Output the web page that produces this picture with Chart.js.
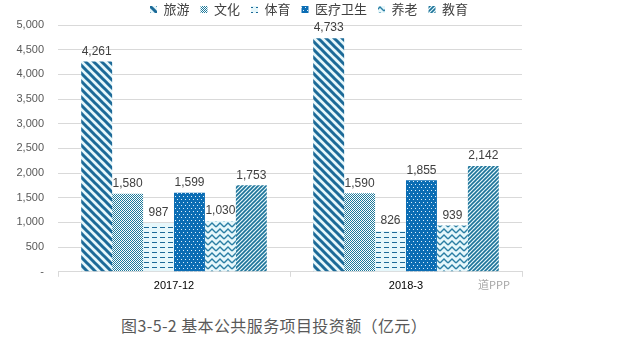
<!DOCTYPE html>
<html>
<head>
<meta charset="utf-8">
<script src="https://cdn.jsdelivr.net/npm/chart.js@4"></script>
<style>
  body { margin: 0; background: #fff; }
  #wrap { position: relative; width: 618px; height: 348px; }
  #box { position: absolute; left: 0; top: 0; width: 618px; height: 296px; }
  #caption { position: absolute; left: 121px; top: 313px; font: 16px "Noto Sans CJK SC", sans-serif; letter-spacing: 0.4px; color: #595959; }
  #mark { position: absolute; left: 478px; top: 276px; font: 11px "Noto Sans CJK SC", sans-serif; color: #a6a6a6; }
</style>
</head>
<body>
<div id="wrap">
  <div id="box"><canvas id="chart"></canvas></div>
  <div id="mark">道PPP</div>
  <div id="caption">图3-5-2 基本公共服务项目投资额（亿元）</div>
</div>
<script>
// data
const periods = ["2017-12", "2018-3"];
const seriesNames = ["旅游", "文化", "体育", "医疗卫生", "养老", "教育"];
const tourism = [4261, 4733];
const culture = [1580, 1590];
const sports = [987, 826];
const health = [1599, 1855];
const elderly = [1030, 939];
const education = [1753, 2142];
const yTicks = [0, 500, 1000, 1500, 2000, 2500, 3000, 3500, 4000, 4500, 5000];

const dark = "#1c6a98";
const light = "#e6f7fb";

// small canvas tiles -> patterns
const tile = (w, h, bg, draw) => {
  const c = document.createElement("canvas");
  c.width = w;
  c.height = h;
  const g = c.getContext("2d");
  g.fillStyle = bg;
  g.fillRect(0, 0, w, h);
  draw(g);
  return g.createPattern(c, "repeat");
};

const patterns = [
  // 旅游: wide "\" stripes
  tile(8, 8, light, (g) => {
    g.strokeStyle = dark;
    g.lineWidth = 3;
    g.beginPath();
    g.moveTo(-2, -2); g.lineTo(10, 10);
    g.moveTo(-10, -2); g.lineTo(2, 10);
    g.moveTo(6, -2); g.lineTo(18, 10);
    g.stroke();
  }),
  // 文化: checkerboard
  tile(2, 2, "#ffffff", (g) => {
    g.fillStyle = "#1d7a9c";
    g.fillRect(0, 0, 1, 1);
    g.fillRect(1, 1, 1, 1);
  }),
  // 体育: dashes
  tile(8, 5, light, (g) => {
    g.fillStyle = dark;
    g.fillRect(0, 2, 5, 1);
  }),
  // 医疗卫生: blue with white dots
  tile(4, 6, "#0b6db4", (g) => {
    g.fillStyle = "#dff0fa";
    g.fillRect(1, 1, 1, 1);
    g.fillRect(3, 4, 1, 1);
  }),
  // 养老: zigzag weave
  tile(8, 6, light, (g) => {
    g.strokeStyle = "#2a7ea3";
    g.lineWidth = 1.4;
    g.beginPath();
    g.moveTo(0, 5); g.lineTo(4, 1); g.lineTo(8, 5);
    g.stroke();
  }),
  // 教育: thin "/" stripes
  tile(4, 4, light, (g) => {
    g.strokeStyle = "#1d7399";
    g.lineWidth = 1.6;
    g.beginPath();
    g.moveTo(-1, 5); g.lineTo(5, -1);
    g.moveTo(-1, 1); g.lineTo(1, -1);
    g.moveTo(3, 5); g.lineTo(5, 3);
    g.stroke();
  }),
];

const values = [tourism, culture, sports, health, elderly, education];

const fmt = (v) => v.toLocaleString("en-US");

// value labels over the bars
const barLabels = {
  id: "barLabels",
  afterDatasetsDraw(chart) {
    const ctx = chart.ctx;
    ctx.save();
    ctx.font = "12px 'Liberation Sans', sans-serif";
    ctx.fillStyle = "#404040";
    ctx.textAlign = "center";
    ctx.textBaseline = "bottom";
    chart.data.datasets.forEach((ds, i) => {
      chart.getDatasetMeta(i).data.forEach((bar, j) => {
        ctx.fillText(fmt(ds.data[j]), bar.x, bar.y - 4);
      });
    });
    ctx.restore();
  },
};

// keep the legend block short so the plot starts high
const shortLegend = {
  id: "shortLegend",
  afterInit(chart) {
    const lg = chart.legend;
    const fit = lg.fit;
    lg.fit = function () {
      fit.call(this);
      this.height = 33;
    };
  },
};

Chart.defaults.font.family = "'Liberation Sans', 'Noto Sans CJK SC', sans-serif";
Chart.defaults.color = "#595959";
Chart.defaults.animation = false;

new Chart(document.querySelector("#chart").getContext("2d"), {
  type: "bar",
  data: {
    labels: periods,
    datasets: seriesNames.map((name, i) => ({
      label: name,
      data: values[i],
      backgroundColor: patterns[i],
      borderWidth: 0,
      barPercentage: 1,
      categoryPercentage: 0.8,
    })),
  },
  options: {
    responsive: true,
    maintainAspectRatio: false,
    layout: {
      padding: { left: 0, right: 0, top: -8, bottom: 0 },
    },
    plugins: {
      legend: {
        position: "top",
        labels: {
          boxWidth: 7,
          boxHeight: 7,
          padding: 11,
          color: "#404040",
          font: { size: 13, family: "'Noto Sans CJK SC', sans-serif" },
        },
      },
      tooltip: { enabled: false },
    },
    scales: {
      x: {
        grid: {
          offset: true,
          drawOnChartArea: false,
          tickLength: 5,
          color: "#d9d9d9",
        },
        border: { color: "#d9d9d9" },
        ticks: { color: "#000", font: { size: 11 } },
      },
      y: {
        min: 0,
        max: 5000,
        afterBuildTicks: (axis) => {
          axis.ticks = yTicks.map((v) => ({ value: v }));
        },
        afterFit: (axis) => {
          axis.width = 58;
        },
        grid: { color: "#d9d9d9", drawTicks: false },
        border: { display: false },
        ticks: {
          padding: 14,
          font: { size: 11 },
          callback: (v) => (v === 0 ? "-" : fmt(v)),
        },
      },
      // empty right gutter
      y2: {
        position: "right",
        min: 0,
        max: 5000,
        grid: { display: false },
        border: { display: false },
        ticks: { display: false },
        afterFit: (axis) => {
          axis.width = 96;
        },
      },
    },
  },
  plugins: [barLabels, shortLegend],
});
</script>
</body>
</html>
